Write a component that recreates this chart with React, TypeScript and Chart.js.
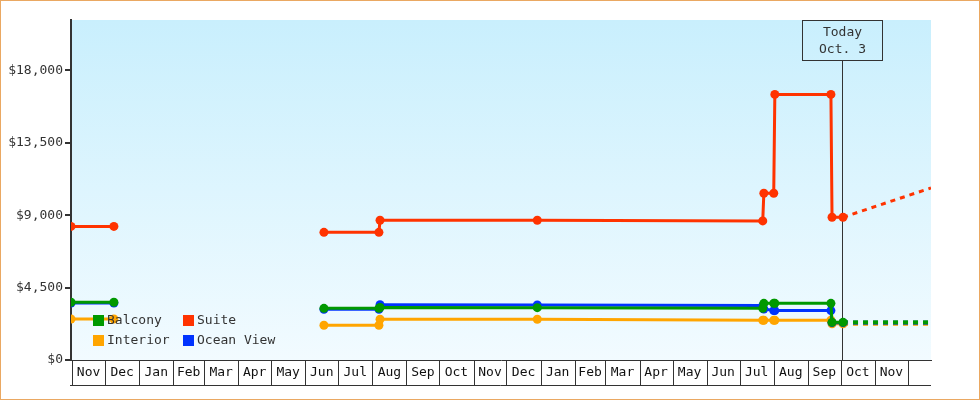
import { useEffect, useRef } from 'react';
import { Chart, registerables } from 'chart.js';

Chart.register(...registerables);

// ---------- data ----------
const PRICE_DATES = [
  '2021-10-31', '2021-12-09', '2022-03-01', '2022-06-18', '2022-08-07', '2022-08-08', '2022-12-29',
  '2023-07-22', '2023-07-23', '2023-08-01', '2023-08-02', '2023-09-22', '2023-09-23', '2023-10-03',
];
const SUITE = [8300, 8300, null, 7930, 7930, 8680, 8680, 8640, 10360, 10360, 16500, 16500, 8870, 8870];
const BALCONY = [3590, 3590, null, 3210, 3210, 3260, 3250, 3210, 3520, 3520, 3520, 3520, 2340, 2340];
const OCEAN_VIEW = [3540, 3540, null, 3150, 3150, 3440, 3420, 3380, 3170, 3070, 3070, 3070, 2320, 2320];
const INTERIOR = [2550, 2550, null, 2160, 2160, 2530, 2530, 2470, 2470, 2470, 2470, 2470, 2250, 2250];

const FORECAST_DATES = ['2023-10-03', '2023-12-22'];
const SUITE_FORECAST = [8870, 10690];
const BALCONY_FORECAST = [2340, 2340];
const OCEAN_VIEW_FORECAST = [2320, 2320];
const INTERIOR_FORECAST = [2250, 2250];

const MONTH_STARTS = [
  '2021-11-01', '2021-12-01', '2022-01-01', '2022-02-01', '2022-03-01', '2022-04-01', '2022-05-01',
  '2022-06-01', '2022-07-01', '2022-08-01', '2022-09-01', '2022-10-01', '2022-11-01', '2022-12-01',
  '2023-01-01', '2023-02-01', '2023-03-01', '2023-04-01', '2023-05-01', '2023-06-01', '2023-07-01',
  '2023-08-01', '2023-09-01', '2023-10-01', '2023-11-01', '2023-12-01',
];
const MONTH_LABELS = [
  'Nov', 'Dec', 'Jan', 'Feb', 'Mar', 'Apr', 'May', 'Jun', 'Jul', 'Aug', 'Sep', 'Oct', 'Nov', 'Dec',
  'Jan', 'Feb', 'Mar', 'Apr', 'May', 'Jun', 'Jul', 'Aug', 'Sep', 'Oct', 'Nov',
];
const X_MIN_DATE = '2021-10-31';
const X_MAX_DATE = '2023-12-22';
const Y_TICKS = [0, 4500, 9000, 13500, 18000];
const Y_MAX = 21125;

const TODAY_DATE = '2023-10-03';
const TODAY_LINES = ['Today', 'Oct. 3'];

const LEGEND_ROWS = [
  ['Balcony', 'Suite'],
  ['Interior', 'Ocean View'],
];

// ---------- helpers ----------
const ORIGIN = Date.UTC(2021, 10, 1);
const dayOf = (iso: string) => {
  const [y, m, d] = iso.split('-').map(Number);
  return (Date.UTC(y, m - 1, d) - ORIGIN) / 86400000;
};
const pts = (dates: string[], vals: (number | null)[]) =>
  dates.map((d, i) => ({ x: dayOf(d), y: vals[i] }));

const COLORS: Record<string, string> = {
  Suite: '#ff3300',
  Balcony: '#009900',
  'Ocean View': '#0033ff',
  Interior: '#ffa500',
};
const FONT = "'DejaVu Sans Mono', monospace";
const INK = '#333333';

export default function App() {
  const ref = useRef<HTMLCanvasElement | null>(null);

  useEffect(() => {
    const canvas = ref.current;
    if (!canvas) return;

    const mainDs = (label: string, vals: (number | null)[], order: number) => ({
      label,
      data: pts(PRICE_DATES, vals),
      borderColor: COLORS[label],
      backgroundColor: COLORS[label],
      pointBackgroundColor: COLORS[label],
      pointBorderWidth: 0,
      pointRadius: 4.5,
      borderWidth: 3,
      tension: 0,
      spanGaps: false,
      order,
    });
    const fcDs = (label: string, vals: number[], order: number, width: number) => ({
      label: label + ' forecast',
      data: pts(FORECAST_DATES, vals),
      borderColor: COLORS[label],
      backgroundColor: COLORS[label],
      borderDash: [5, 5],
      pointRadius: 0,
      borderWidth: width,
      tension: 0,
      order,
    });

    const todayX = (xs: any) => Math.round(xs.getPixelForValue(dayOf(TODAY_DATE))) - 0.5;

    const decor = {
      id: 'decor',
      beforeDraw(chart: any) {
        const { ctx, chartArea: a } = chart;
        ctx.save();
        ctx.fillStyle = '#ffffff';
        ctx.fillRect(0, 0, chart.width, chart.height);
        const g = ctx.createLinearGradient(0, a.top, 0, a.bottom);
        g.addColorStop(0, '#c9effd');
        g.addColorStop(1, '#f2fbff');
        ctx.fillStyle = g;
        ctx.fillRect(a.left, a.top, a.right - a.left, a.bottom - a.top);
        ctx.restore();
      },
      beforeDatasetsDraw(chart: any) {
        const { ctx, chartArea: a, scales } = chart;
        const x = todayX(scales.x);
        ctx.save();
        ctx.strokeStyle = INK;
        ctx.lineWidth = 1;
        ctx.beginPath();
        ctx.moveTo(x, a.top + 40);
        ctx.lineTo(x, a.bottom);
        ctx.stroke();
        ctx.restore();
      },
      afterDatasetsDraw(chart: any) {
        const { ctx, chartArea: a } = chart;
        ctx.save();
        ctx.font = `13px ${FONT}`;
        ctx.textBaseline = 'middle';
        ctx.textAlign = 'left';
        LEGEND_ROWS.forEach((row, r) => {
          row.forEach((label, c) => {
            const bx = a.left + 22 + c * 90;
            const by = a.bottom - 45 + r * 20;
            ctx.fillStyle = COLORS[label];
            ctx.fillRect(bx, by, 11, 11);
            ctx.fillStyle = INK;
            ctx.fillText(label, bx + 14, by + 6);
          });
        });
        ctx.restore();
      },
      afterDraw(chart: any) {
        const { ctx, chartArea: a, scales } = chart;
        const xs = scales.x;
        ctx.save();
        ctx.strokeStyle = INK;
        ctx.lineWidth = 1;
        ctx.beginPath();
        MONTH_STARTS.forEach((m) => {
          const x = Math.round(xs.getPixelForValue(dayOf(m))) + 0.5;
          ctx.moveTo(x, a.bottom);
          ctx.lineTo(x, a.bottom + 25);
        });
        ctx.moveTo(a.left - 1, a.bottom + 25.5);
        ctx.lineTo(a.right, a.bottom + 25.5);
        ctx.stroke();

        // today box
        const tx = todayX(xs);
        ctx.strokeRect(tx - 40, a.top + 0.5, 80, 40);
        ctx.fillStyle = INK;
        ctx.font = `13px ${FONT}`;
        ctx.textAlign = 'center';
        ctx.textBaseline = 'middle';
        ctx.fillText(TODAY_LINES[0], tx, a.top + 12.5);
        ctx.fillText(TODAY_LINES[1], tx, a.top + 30);

        // outer frame
        ctx.strokeStyle = '#eaa862';
        ctx.strokeRect(0.5, 0.5, chart.width - 1, chart.height - 1);
        ctx.restore();
      },
    };

    const chart = new Chart(canvas, {
      type: 'line',
      data: {
        datasets: [
          mainDs('Balcony', BALCONY, 0),
          mainDs('Suite', SUITE, 1),
          mainDs('Ocean View', OCEAN_VIEW, 2),
          mainDs('Interior', INTERIOR, 3),
          fcDs('Suite', SUITE_FORECAST, 4, 3),
          fcDs('Balcony', BALCONY_FORECAST, 5, 4),
          fcDs('Ocean View', OCEAN_VIEW_FORECAST, 6, 4),
          fcDs('Interior', INTERIOR_FORECAST, 7, 4),
        ] as any,
      },
      options: {
        responsive: false,
        devicePixelRatio: 1,
        animation: false,
        events: [],
        layout: { padding: { top: 20, right: 49, bottom: 0, left: 0 } },
        font: { family: FONT, size: 13 } as any,
        plugins: {
          legend: { display: false },
          tooltip: { enabled: false },
        },
        scales: {
          x: {
            type: 'linear',
            position: 'bottom',
            min: dayOf(X_MIN_DATE),
            max: dayOf(X_MAX_DATE),
            afterBuildTicks: (s: any) => {
              s.ticks = MONTH_LABELS.map((_, i) => ({
                value: (dayOf(MONTH_STARTS[i]) + dayOf(MONTH_STARTS[i + 1])) / 2,
              }));
            },
            afterFit: (s: any) => {
              s.height = 40;
            },
            grid: { display: false, drawTicks: false },
            border: { display: true, color: INK, width: 1 },
            ticks: {
              autoSkip: false,
              maxRotation: 0,
              minRotation: 0,
              padding: 5,
              color: '#111111',
              font: { family: FONT, size: 13 },
              callback: (_v: any, i: number) => MONTH_LABELS[i],
            },
          },
          y: {
            type: 'linear',
            min: 0,
            max: Y_MAX,
            afterBuildTicks: (s: any) => {
              s.ticks = Y_TICKS.map((v) => ({ value: v }));
            },
            afterFit: (s: any) => {
              s.width = 71;
            },
            grid: { drawOnChartArea: false, drawTicks: true, tickLength: 6, lineWidth: 2, color: INK },
            border: { display: true, color: INK, width: 2 },
            ticks: {
              padding: 2,
              color: INK,
              font: { family: FONT, size: 13 },
              callback: (v: any) => '$' + Number(v).toLocaleString('en-US'),
            },
          },
        },
      } as any,
      plugins: [decor],
    });

    return () => chart.destroy();
  }, []);

  return (
    <canvas
      ref={ref}
      width={980}
      height={400}
      style={{ position: 'fixed', left: 0, top: 0, width: 980, height: 400, display: 'block' }}
    />
  );
}
